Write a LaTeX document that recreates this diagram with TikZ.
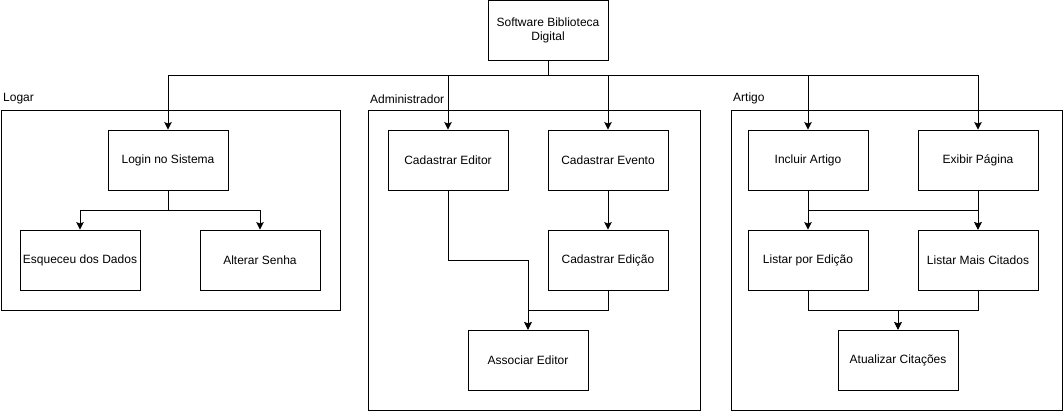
\documentclass[tikz,border=0pt]{standalone}
\usepackage{fontspec}
\setmainfont{Liberation Sans}
\usetikzlibrary{arrows.meta}
\begin{document}
\begin{tikzpicture}[x=1pt,y=-1pt,
  every node/.style={font=\fontsize{12}{14.5}\selectfont},
  box/.style={draw,line width=0.9pt,minimum width=120pt,minimum height=60pt,inner sep=0pt,align=center},
  cont/.style={draw,line width=0.9pt,inner sep=0pt,anchor=north west},
  lab/.style={anchor=south west,inner sep=0pt},
  con/.style={line width=0.9pt},
  arr/.style={con,-{Stealth[length=7.5pt,width=7.5pt,inset=1.5pt]}}]
\useasboundingbox (0,0) rectangle (1064,412);
% containers
\node[cont,minimum width=339.5pt,minimum height=200pt] (clog) at (0.5,110) {};
\node[cont,minimum width=332pt,minimum height=300pt] (cadm) at (368,110) {};
\node[cont,minimum width=331pt,minimum height=300pt] (cart) at (731,110) {};
\node[lab] (llog) at (3,104) {Logar};
\node[lab] (ladm) at (370,104) {Administrador};
\node[lab] (lart) at (733,104) {Artigo};
% boxes
\node[box] (top) at (548,30.5) {Software Biblioteca\\Digital};
\node[box] (login) at (168,160) {Login no Sistema};
\node[box] (esq) at (80,260) {Esqueceu dos Dados};
\node[box] (alt) at (260,260) {Alterar Senha};
\node[box] (ced) at (448,160) {Cadastrar Editor};
\node[box] (cev) at (608,160) {Cadastrar Evento};
\node[box] (cedi) at (608,260) {Cadastrar Edição};
\node[box] (ass) at (528,360) {Associar Editor};
\node[box] (inc) at (808,160) {Incluir Artigo};
\node[box] (exi) at (978,160) {Exibir Página};
\node[box] (lpe) at (808,260) {Listar por Edição};
\node[box] (lmc) at (978,260) {Listar Mais Citados};
\node[box] (atu) at (898,360) {Atualizar Citações};
% connectors
\coordinate (bus) at (548,75);
\draw[con] (top.south) -- (bus);
\draw[arr] (bus) -| (login.north);
\draw[arr] (bus) -| (ced.north);
\draw[arr] (bus) -| (cev.north);
\draw[arr] (bus) -| (inc.north);
\draw[arr] (bus) -| (exi.north);
\draw[arr] (login.south) -- ++(0,20) -| (esq.north);
\draw[arr] (login.south) -- ++(0,20) -| (alt.north);
\draw[arr] (cev.south) -- (cedi.north);
\draw[arr] (ced.south) -- ++(0,70) -| (ass.north);
\draw[arr] (cedi.south) -- ++(0,20) -| (ass.north);
\draw[arr] (inc.south) -- ++(0,20) -| (lpe.north);
\draw[arr] (inc.south) -- ++(0,20) -| (lmc.north);
\draw[arr] (exi.south) -- ++(0,20) -| (lmc.north);
\draw[arr] (lpe.south) -- ++(0,20) -| (atu.north);
\draw[arr] (lmc.south) -- ++(0,20) -| (atu.north);
\end{tikzpicture}
\end{document}
